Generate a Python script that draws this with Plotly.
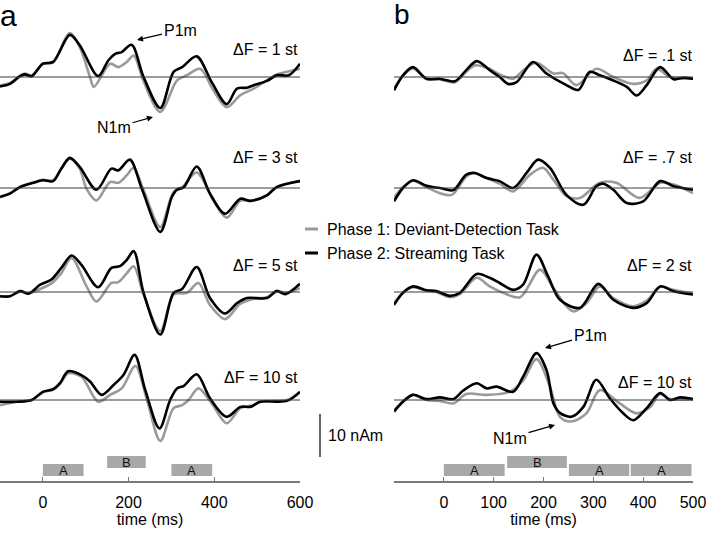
import plotly.graph_objects as go

W, H = 706, 533
FONT = "Liberation Sans, Arial, Helvetica, sans-serif"
GRAY = "#9a9a9a"
BLACK = "#000000"

# ---------------- Panel a (time in ms, amplitude in nAm) ----------------
a1_blk_t = [-100, -77, -53, -42, -26, 0, 24, 63, 86, 129, 153, 169, 184, 207, 235, 274, 305, 325, 359, 394, 429, 453, 476, 492, 523, 546, 574, 600]
a1_blk_v = [-2.2, -1.6, 0.2, 0.6, 0.2, 3.1, 3.5, 9.8, 7.4, 0.2, 3.9, 5.4, 5.8, 7.5, 0.0, -7.2, 1.2, 2.3, 4.8, -1.2, -6.3, -2.7, -2.5, -1.9, -0.9, 0.4, 0.4, 3.1]
a1_gry_t = [-100, -77, -53, -42, -26, 0, 24, 63, 86, 110, 119, 157, 176, 196, 212, 235, 274, 313, 336, 367, 398, 429, 461, 492, 546, 570, 600]
a1_gry_v = [-2.0, -1.4, 0.3, 0.8, 0.4, 3.0, 3.4, 10.2, 7.0, 0.0, -2.3, 3.1, 2.3, 3.5, 5.0, -1.0, -8.1, -0.8, 0.4, 1.9, -3.1, -7.0, -4.2, -2.7, 0.6, 1.2, 1.9]

a2_blk_t = [-100, -77, -53, -22, 0, 24, 43, 63, 86, 125, 160, 176, 203, 231, 274, 301, 313, 329, 359, 390, 425, 461, 484, 523, 546, 600]
a2_blk_v = [-2.1, -1.3, 0.2, 1.2, 1.8, 1.6, 4.5, 7.0, 4.9, -0.4, 4.5, 4.1, 6.6, -0.2, -10.2, -2.1, -0.4, 0.2, 5.0, -1.3, -6.0, -2.5, -3.0, -1.7, 0.2, 1.6]
a2_gry_t = [-100, -77, -53, -22, 0, 24, 43, 63, 86, 102, 125, 157, 176, 196, 212, 235, 274, 305, 325, 359, 398, 429, 461, 484, 523, 546, 600]
a2_gry_v = [-2.0, -1.2, 0.3, 1.3, 1.9, 1.8, 4.6, 6.8, 4.5, -0.2, -2.9, 1.4, 1.2, 3.0, 4.7, -0.5, -9.1, -0.9, 0.2, 3.6, -2.9, -6.9, -2.9, -3.0, -1.6, 0.3, 1.7]

a3_blk_t = [-100, -77, -53, -34, -6, 20, 43, 67, 90, 129, 160, 180, 196, 212, 235, 274, 305, 325, 359, 390, 425, 453, 476, 523, 546, 566, 600]
a3_blk_v = [-1.0, -1.0, 0.2, -0.4, 1.7, 2.9, 5.6, 8.5, 6.3, 1.1, 5.6, 6.0, 7.5, 9.5, -0.2, -9.9, -0.2, 0.7, 5.8, -1.4, -5.0, -2.6, -1.4, -1.4, 0.2, -0.5, 1.9]
a3_gry_t = [-100, -77, -53, -34, -6, 20, 43, 67, 102, 125, 160, 176, 196, 212, 235, 274, 305, 336, 363, 390, 425, 461, 492, 523, 546, 566, 600]
a3_gry_v = [-1.0, -1.0, 0.2, -0.3, 0.7, 2.0, 4.4, 7.9, 1.3, -2.2, 2.1, 2.3, 4.4, 6.0, -0.6, -9.1, -0.6, -0.2, 2.1, -3.0, -6.3, -2.7, -1.6, -1.2, 0.3, -0.2, 0.9]

a4_blk_t = [-100, -61, -26, 0, 24, 40, 59, 90, 110, 137, 165, 188, 214, 239, 272, 297, 313, 329, 359, 390, 429, 461, 484, 507, 570, 600]
a4_blk_v = [-0.4, -0.4, 0.0, 1.9, 2.5, 3.9, 6.7, 5.8, 4.3, 1.2, 3.5, 5.8, 10.5, 2.3, -6.6, 0.0, 2.7, 3.3, 6.0, 0.4, -3.9, -1.6, -1.6, -0.4, -0.2, 1.9]
a4_gry_t = [-100, -61, -26, 0, 24, 40, 59, 90, 129, 157, 184, 216, 243, 274, 305, 325, 340, 363, 394, 429, 461, 492, 507, 570, 600]
a4_gry_v = [-1.2, -0.4, 0.0, 1.8, 2.4, 3.7, 6.2, 5.4, -0.4, 1.2, 2.7, 7.9, 0.0, -9.5, -1.9, -1.2, 0.0, 2.7, -0.8, -5.4, -1.9, -1.2, -0.4, 0.0, 1.9]

# ---------------- Panel b ----------------
b1_blk_t = [-100, -82, -62, -35, -8, 22, 45, 66, 92, 112, 129, 146, 179, 206, 246, 270, 293, 313, 340, 367, 387, 407, 434, 461, 481, 500]
b1_blk_v = [-3.1, 0.4, 2.3, -0.4, -0.4, -1.0, 1.6, 3.7, 1.6, 0.0, -1.6, -1.2, 3.5, 0.8, -1.9, -3.0, 1.2, 0.4, -0.8, -2.3, -4.3, -1.9, 2.3, -0.5, -0.2, -0.4]
b1_gry_t = [-100, -82, -62, -35, -8, 22, 45, 62, 92, 112, 139, 160, 186, 220, 239, 266, 306, 340, 380, 407, 427, 454, 481, 500]
b1_gry_v = [-2.7, 0.3, 2.0, -0.4, -0.6, -1.2, 1.2, 2.7, 1.9, 0.6, -0.4, 1.6, 3.3, 0.8, 0.9, -1.9, 1.9, 0.0, -1.6, -0.8, 1.9, 0.0, -0.2, -0.4]

b2_blk_t = [-100, -82, -62, -35, -8, 19, 45, 62, 86, 112, 139, 166, 189, 213, 246, 280, 306, 320, 340, 367, 400, 434, 461, 500]
b2_blk_v = [-3.1, 0.0, 1.8, 0.5, 0.0, -0.5, 3.1, 3.5, 2.3, 1.6, 0.0, 3.5, 6.6, 4.7, -1.6, -3.9, 0.4, 1.0, -0.4, -3.5, -3.1, 1.6, 0.4, -0.4]
b2_gry_t = [-100, -82, -62, -35, -8, 16, 45, 59, 86, 112, 139, 173, 199, 220, 246, 273, 313, 346, 393, 434, 461, 500]
b2_gry_v = [-2.3, 0.2, 1.7, 0.2, -1.2, -1.6, 2.7, 3.5, 2.3, 1.0, -0.8, 3.1, 4.7, 1.9, -1.9, -2.3, 1.2, 1.2, -2.3, 1.2, 0.8, -1.2]

b3_blk_t = [-100, -82, -62, -35, -15, 12, 32, 66, 92, 112, 139, 159, 186, 209, 233, 273, 310, 340, 380, 407, 434, 461, 500]
b3_blk_v = [-3.0, -0.2, 1.3, 0.4, 0.2, -0.9, -0.2, 4.2, 3.3, 2.1, 0.5, 1.7, 8.7, 3.7, -1.8, -3.7, 1.9, -1.8, -3.7, -2.6, 1.3, 0.2, -0.6]
b3_gry_t = [-100, -82, -62, -35, -15, 12, 32, 66, 92, 119, 153, 193, 220, 246, 260, 286, 313, 340, 380, 407, 434, 461, 500]
b3_gry_v = [-2.6, -0.1, 1.1, 0.3, 0.0, -1.2, -0.5, 3.3, 1.3, -0.2, -1.2, 5.2, 0.9, -3.3, -4.5, -2.6, 1.3, -1.4, -3.3, -2.0, 1.2, 0.5, -0.4]

b4_blk_t = [-100, -82, -62, -35, -8, 19, 39, 66, 86, 106, 139, 159, 186, 206, 220, 233, 256, 280, 306, 333, 360, 380, 407, 434, 454, 474, 500]
b4_blk_v = [-2.7, -0.4, 1.2, 0.2, 0.6, 0.2, 2.2, 3.9, 2.7, 3.1, 1.9, 5.4, 10.9, 7.0, -0.8, -3.0, -3.9, -1.6, 4.7, 0.4, -3.1, -4.7, -1.9, 1.6, 0.0, 0.6, 0.2]
b4_gry_t = [-100, -82, -62, -35, -8, 19, 45, 86, 132, 159, 186, 213, 233, 256, 286, 313, 353, 387, 414, 434, 454, 500]
b4_gry_v = [-2.4, -0.3, 1.2, 0.0, -0.2, -0.8, 1.4, 1.2, 1.9, 4.5, 9.5, 3.1, -3.9, -5.0, -3.1, 2.3, -0.8, -3.1, -1.6, 1.4, 0.2, 0.2]

a_labels = ["ΔF = 1 st", "ΔF = 3 st", "ΔF = 5 st", "ΔF = 10 st"]
b_labels = ["ΔF = .1 st", "ΔF = .7 st", "ΔF = 2 st", "ΔF = 10 st"]

# tone sequences (ms)
a_tone_on = [0, 150, 300]
a_tone_off = [95, 240, 395]
a_tone_lbl = ["A", "B", "A"]
b_tone_on = [0, 127, 251, 375]
b_tone_off = [122, 247, 372, 497]
b_tone_lbl = ["A", "B", "A", "A"]

a_ticks = [0, 200, 400, 600]
b_ticks = [0, 100, 200, 300, 400, 500]

legend_names = ["Phase 1: Deviant-Detection Task", "Phase 2: Streaming Task"]

# ---------------- layout helpers ----------------
PX_PER_NAM = 4.3
AXIS_PX = 481                      # pixel row of the time axis
YDOM0 = (H - AXIS_PX) / H
YTOP = AXIS_PX / PX_PER_NAM
OFFSETS = [(AXIS_PX - p) / PX_PER_NAM for p in (77, 188, 292, 400)]


def px(x):
    return x / W


def py(y):
    return 1 - y / H


def nam_to_paper(v):
    return YDOM0 + v / YTOP * (1 - YDOM0)


fig = go.Figure()

panels = [
    ("x", "y", [(a1_gry_t, a1_gry_v, a1_blk_t, a1_blk_v), (a2_gry_t, a2_gry_v, a2_blk_t, a2_blk_v),
                (a3_gry_t, a3_gry_v, a3_blk_t, a3_blk_v), (a4_gry_t, a4_gry_v, a4_blk_t, a4_blk_v)], [-100, 600]),
    ("x2", "y2", [(b1_gry_t, b1_gry_v, b1_blk_t, b1_blk_v), (b2_gry_t, b2_gry_v, b2_blk_t, b2_blk_v),
                  (b3_gry_t, b3_gry_v, b3_blk_t, b3_blk_v), (b4_gry_t, b4_gry_v, b4_blk_t, b4_blk_v)], [-100, 500]),
]

shapes = []
for xa, ya, rows, xr in panels:
    for k, (gt, gv, bt, bv) in enumerate(rows):
        off = OFFSETS[k]
        shapes.append(dict(type="line", xref=xa, yref=ya, x0=xr[0], x1=xr[1], y0=off, y1=off,
                           line=dict(color="#3a3a3a", width=1)))
        fig.add_trace(go.Scatter(x=gt, y=[v + off for v in gv], xaxis=xa, yaxis=ya, mode="lines",
                                 line=dict(color=GRAY, width=2.6, shape="spline", smoothing=0.9),
                                 showlegend=False, hoverinfo="skip"))
        fig.add_trace(go.Scatter(x=bt, y=[v + off for v in bv], xaxis=xa, yaxis=ya, mode="lines",
                                 line=dict(color=BLACK, width=2.6, shape="spline", smoothing=0.9),
                                 showlegend=False, hoverinfo="skip"))

annotations = []

# tone bars
for xa, ons, offs, lbls in (("x", a_tone_on, a_tone_off, a_tone_lbl), ("x2", b_tone_on, b_tone_off, b_tone_lbl)):
    for t0, t1, lb in zip(ons, offs, lbls):
        top, bot = (456, 468) if lb == "B" else (464, 476)
        shapes.append(dict(type="rect", xref=xa, yref="paper", x0=t0, x1=t1, y0=py(bot), y1=py(top),
                           fillcolor="#a8a8a8", line=dict(width=0), layer="below"))
        annotations.append(dict(xref=xa, yref="paper", x=(t0 + t1) / 2, y=py((top + bot) / 2 + 0.5),
                                text=lb, showarrow=False, font=dict(size=13, color="#111", family=FONT),
                                xanchor="center", yanchor="middle"))

# delta-F labels
for lbl, yc in zip(a_labels, (50, 158, 265, 377)):
    annotations.append(dict(xref="paper", yref="paper", x=px(300), y=py(yc), text=lbl, showarrow=False,
                            xanchor="right", yanchor="middle", font=dict(size=16, family=FONT, color="#000")))
for lbl, yc in zip(b_labels, (55, 157, 265, 382)):
    annotations.append(dict(xref="paper", yref="paper", x=px(694), y=py(yc), text=lbl, showarrow=False,
                            xanchor="right", yanchor="middle", font=dict(size=16, family=FONT, color="#000")))

# panel letters
annotations.append(dict(xref="paper", yref="paper", x=px(-2), y=py(-3), text="a", showarrow=False,
                        xanchor="left", yanchor="top", font=dict(size=30, family=FONT, color="#000")))
annotations.append(dict(xref="paper", yref="paper", x=px(392), y=py(-3), text="b", showarrow=False,
                        xanchor="left", yanchor="top", font=dict(size=28, family=FONT, color="#000")))

# P1m / N1m pointers
for txt, head, tail in (("P1m", (137, 40), (180, 30)), ("N1m", (153, 117), (114, 128)),
                        ("P1m", (545, 348), (590, 335)), ("N1m", (555, 425), (510, 438))):
    annotations.append(dict(xref="paper", yref="paper", x=px(head[0]), y=py(head[1]), text=txt,
                            showarrow=True, ax=tail[0] - head[0], ay=tail[1] - head[1],
                            arrowhead=2, arrowsize=1, arrowwidth=1.2, arrowcolor="#000", standoff=0,
                            font=dict(size=16, family=FONT, color="#000")))

# legend
for name, col, yc in zip(legend_names, (GRAY, BLACK), (229, 253)):
    shapes.append(dict(type="line", xref="paper", yref="paper", x0=px(305), x1=px(318), y0=py(yc), y1=py(yc),
                       line=dict(color=col, width=3)))
    annotations.append(dict(xref="paper", yref="paper", x=px(325), y=py(yc), text=name, showarrow=False,
                            xanchor="left", yanchor="middle", font=dict(size=16, family=FONT, color="#000")))

# 10 nAm scale bar
bar_lo = (AXIS_PX - 457) / PX_PER_NAM
shapes.append(dict(type="line", xref="paper", yref="paper", x0=px(320), x1=px(320),
                   y0=nam_to_paper(bar_lo), y1=nam_to_paper(bar_lo + 10), line=dict(color="#000", width=1.2)))
annotations.append(dict(xref="paper", yref="paper", x=px(326), y=nam_to_paper(bar_lo + 5), text="10 nAm",
                        showarrow=False, xanchor="left", yanchor="middle",
                        font=dict(size=16, family=FONT, color="#000")))

axis_common = dict(showline=True, linecolor="#7a7a7a", linewidth=1.6, ticks="inside", ticklen=4,
                   tickcolor="#7a7a7a", tickwidth=1.2, showgrid=False, zeroline=False, automargin=False,
                   ticklabelstandoff=6, ticklabeloverflow="allow",
                   tickfont=dict(size=16, family=FONT, color="#000"), fixedrange=True)

fig.update_layout(
    width=W, height=H, autosize=False,
    margin=dict(l=0, r=0, t=0, b=0, pad=0, autoexpand=False),
    paper_bgcolor="white", plot_bgcolor="white",
    font=dict(family=FONT, size=16, color="#000"),
    xaxis=dict(domain=[0, px(300)], range=[-100, 600], anchor="y", tickvals=a_ticks,
               title=dict(text="time (ms)", font=dict(size=16, family=FONT), standoff=1), **axis_common),
    xaxis2=dict(domain=[px(394), px(693)], range=[-100, 500], anchor="y2", tickvals=b_ticks,
                title=dict(text="time (ms)", font=dict(size=16, family=FONT), standoff=1), **axis_common),
    yaxis=dict(domain=[YDOM0, 1], range=[0, YTOP], visible=False, fixedrange=True, anchor="x", automargin=False),
    yaxis2=dict(domain=[YDOM0, 1], range=[0, YTOP], visible=False, fixedrange=True, anchor="x2", automargin=False),
    shapes=shapes, annotations=annotations, showlegend=False,
)

fig.write_html("out.html", config={"displayModeBar": False, "staticPlot": True},
               post_script="document.body.style.margin='0px';document.body.style.padding='0px';"
                           "document.body.style.overflow='hidden';")
